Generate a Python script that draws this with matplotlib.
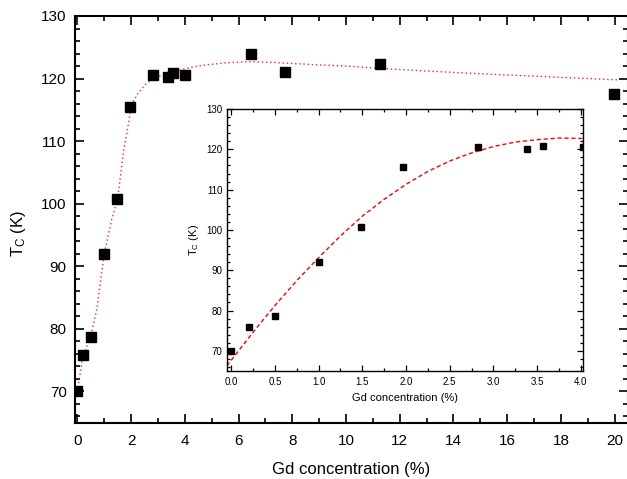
import matplotlib
matplotlib.use("Agg")
import matplotlib.pyplot as plt
from matplotlib.ticker import MultipleLocator

plt.rcParams['font.family'] = ['Liberation Sans', 'DejaVu Sans']
plt.rcParams['mathtext.default'] = 'regular'

# measured Curie temperature vs Gd concentration
gd_conc = [0.0, 0.2, 0.5, 1.0, 1.48, 1.96, 2.82, 3.38, 3.57, 4.02, 6.47, 7.74, 11.26, 19.97]
tc_vals = [70.0, 75.9, 78.7, 92.0, 100.8, 115.5, 120.5, 120.2, 120.9, 120.6, 124.0, 121.0, 122.3, 117.5]

# guide-to-the-eye curve over the full range
guide_x = [0.0, 0.2, 0.5, 0.72, 1.0, 1.28, 1.5, 1.71, 2.0, 2.1, 2.27, 2.52, 2.83, 3.1, 3.45,
           3.82, 4.3, 4.81, 5.5, 6.3, 7.2, 8.9, 10.0, 11.4, 13.0, 15.84, 18.0, 20.1]
guide_y = [70.0, 75.6, 78.8, 83.1, 92.0, 97.5, 100.8, 108.1, 115.3, 116.5, 117.7, 119.0, 120.06, 120.5, 120.86,
           121.4, 121.85, 122.2, 122.5, 122.7, 122.6, 122.2, 122.0, 121.6, 121.2, 120.6, 120.2, 119.8]

# fit over the low-concentration range (inset)
fit_x = [-0.05, 0.0, 0.25, 0.5, 0.75, 1.0, 1.25, 1.5, 1.75, 2.0, 2.25, 2.5, 2.75, 3.0, 3.25, 3.5, 3.75, 4.02]
fit_y = [66.3, 67.6, 74.6, 81.2, 87.4, 93.1, 98.5, 103.4, 107.6, 111.3, 114.5, 117.1, 119.1, 120.7, 121.8, 122.4, 122.8, 122.7]

fig = plt.figure(figsize=(6.27, 4.79), dpi=100)

# main panel
ax = fig.add_axes([0.1196, 0.1175, 1.0008 - 0.1196, 0.9666 - 0.1175])
ax.plot(guide_x, guide_y, color='red', lw=1.0, linestyle=(0, (1, 2)), alpha=0.85)
ax.plot(gd_conc, tc_vals, linestyle='none', marker='s', ms=6.5, color='black')
ax.set_xlim(-0.09, 20.48)
ax.set_ylim(65, 130)
ax.xaxis.set_major_locator(MultipleLocator(2))
ax.xaxis.set_minor_locator(MultipleLocator(1))
ax.yaxis.set_major_locator(MultipleLocator(10))
ax.yaxis.set_minor_locator(MultipleLocator(2))
ax.tick_params(which='both', direction='in', top=True, right=True, width=1.2)
ax.tick_params(which='major', length=6.5, labelsize=11)
ax.tick_params(which='minor', length=3.5)
ax.tick_params(axis='x', which='major', pad=8)
ax.tick_params(axis='y', which='major', pad=6)
for sp in ax.spines.values():
    sp.set_linewidth(1.5)
ax.set_xlabel('Gd concentration (%)', fontsize=12, labelpad=10)
ax.set_ylabel('T$_C$ (K)', fontsize=12)
ax.yaxis.set_label_coords(-0.085, 0.466)

# inset: zoom on 0-4 %
ins = fig.add_axes([0.3616, 0.2255, 0.9293 - 0.3616, 0.7724 - 0.2255])
ins.plot(fit_x, fit_y, color='red', lw=1.0, linestyle=(0, (3, 2)))
ins.plot(gd_conc, tc_vals, linestyle='none', marker='s', ms=4.8, color='black')
ins.set_xlim(-0.05, 4.02)
ins.set_ylim(65, 130)
ins.xaxis.set_major_locator(MultipleLocator(0.5))
ins.xaxis.set_minor_locator(MultipleLocator(0.25))
ins.yaxis.set_major_locator(MultipleLocator(10))
ins.yaxis.set_minor_locator(MultipleLocator(2))
ins.tick_params(which='both', direction='in', top=True, right=True, width=0.9)
ins.tick_params(which='major', length=4, labelsize=7)
ins.tick_params(which='minor', length=2.2)
ins.tick_params(axis='x', which='major', pad=4.5)
ins.tick_params(axis='y', which='major', pad=3)
for sp in ins.spines.values():
    sp.set_linewidth(1.0)
ins.set_xlabel('Gd concentration (%)', fontsize=8, labelpad=4)
ins.set_ylabel('T$_C$ (K)', fontsize=8, labelpad=4)

fig.savefig('out.png', dpi=100)
